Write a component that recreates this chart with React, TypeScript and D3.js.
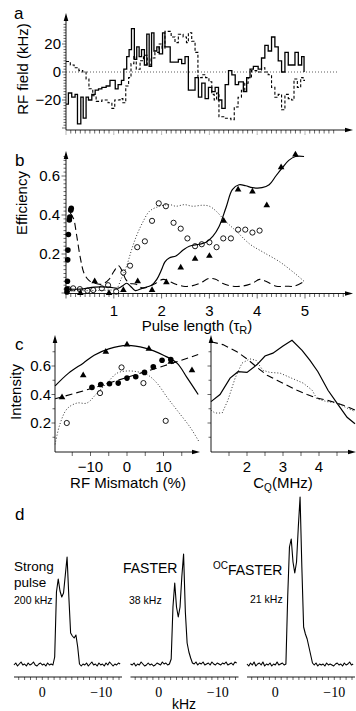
import React from 'react';
import * as d3 from 'd3';

const SANS = '"Liberation Sans", Arial, Helvetica, sans-serif';
const SERIF = '"Liberation Serif", "Times New Roman", serif';

// ---- panel a: RF field of the pulse (step start in tau_R, kHz) ----
const aSolidT = [0, 0.05, 0.12, 0.19, 0.24, 0.31, 0.36, 0.42, 0.47, 0.54, 0.61, 0.68, 0.75, 0.84, 0.92, 1.03, 1.09, 1.16, 1.21, 1.27, 1.32, 1.37, 1.43, 1.48, 1.53, 1.58, 1.64, 1.69, 1.74, 1.79, 1.84, 1.9, 1.95, 2.02, 2.07, 2.18, 2.35, 2.42, 2.49, 2.56, 2.7, 2.77, 2.84, 2.91, 2.98, 3.05, 3.12, 3.19, 3.26, 3.33, 3.4, 3.47, 3.54, 3.61, 3.71, 3.78, 3.85, 3.92, 4.02, 4.09, 4.16, 4.23, 4.3, 4.37, 4.44, 4.51, 4.58, 4.65, 4.79, 4.86, 4.93, 4.98];
const aSolidV = [-23, -15, -18, -16, -37, -18, -33, -18, -20, -16, -13, -12, -11, -10, -6, -12, -9, -6, 2, 11, 16, 31, 9, 18, 11, 16, 5, 27, 4, 28, 15, 18, 13, 28, 18, 7, 9, 6, 11, -13, -4, -18, -8, -19, -11, -14, -11, -20, -26, -9, 1, -2, -9, -7, -14, -4, 2, 4, 2, 10, 19, 15, 25, 18, 8, 0, 14, 5, 14, 5, 11, 0];
const aDashT = [0, 0.09, 0.17, 0.27, 0.35, 0.42, 0.48, 0.56, 0.63, 0.75, 0.88, 0.96, 1.02, 1.13, 1.19, 1.25, 1.31, 1.36, 1.42, 1.47, 1.55, 1.62, 1.7, 1.78, 1.86, 1.95, 2.01, 2.07, 2.2, 2.28, 2.35, 2.45, 2.52, 2.56, 2.63, 2.7, 2.76, 2.85, 2.92, 2.99, 3.05, 3.1, 3.15, 3.2, 3.32, 3.45, 3.52, 3.6, 3.67, 3.74, 3.81, 3.88, 3.99, 4.09, 4.16, 4.23, 4.3, 4.37, 4.44, 4.51, 4.58, 4.65, 4.72, 4.77, 4.84, 4.91, 4.96, 5.0];
const aDashV = [7.5, 5, 3, 1, 0, -5, -12, -17, -21, -20, -22, -26, -20, -19, -22, -10, -4, 6, 11, 2, 8, 12, 5, 10, 14, 20, 17, 29, 25, 21, 27, 25, 21, 28, 22, 14, -4, -2, -4, -7, -16, -20, -15, -32, -33, -34, -25, -18, -13, -8, -4, 1, 0, 3, 0, -2, -11, -18, -16, -27, -16, -19, -20, -5, -11, -4, -6, -6];
const aYLabels = [-20, 0, 20];

// ---- panel b: efficiency vs pulse length ----
const bSolidT = [0.02, 0.3, 0.6, 0.9, 1.1, 1.2, 1.27, 1.35, 1.45, 1.6, 1.79, 1.9, 2.0, 2.07, 2.16, 2.3, 2.45, 2.58, 2.79, 2.93, 3.07, 3.2, 3.35, 3.48, 3.62, 3.76, 3.9, 4.1, 4.25, 4.39, 4.52, 4.66, 4.8, 4.98];
const bSolidV = [0.02, 0.02, 0.03, 0.03, 0.025, 0.04, 0.05, 0.035, 0.012, 0.025, 0.04, 0.07, 0.12, 0.16, 0.18, 0.19, 0.22, 0.24, 0.25, 0.26, 0.29, 0.34, 0.44, 0.53, 0.555, 0.55, 0.54, 0.54, 0.555, 0.6, 0.64, 0.68, 0.7, 0.7];
const bDashT = [0.09, 0.16, 0.22, 0.3, 0.38, 0.48, 0.6, 0.75, 0.9, 1.0, 1.1, 1.18, 1.25, 1.33, 1.47, 1.6, 1.75, 1.88, 2.03, 2.16, 2.3, 2.45, 2.6, 2.8, 3.0, 3.13, 3.27, 3.48, 3.68, 3.9, 4.05, 4.18, 4.4, 4.6, 4.77, 4.95];
const bDashV = [0.41, 0.38, 0.3, 0.18, 0.1, 0.065, 0.05, 0.045, 0.07, 0.11, 0.14, 0.11, 0.07, 0.05, 0.045, 0.025, 0.035, 0.05, 0.07, 0.06, 0.045, 0.035, 0.035, 0.05, 0.075, 0.07, 0.05, 0.035, 0.035, 0.05, 0.07, 0.06, 0.035, 0.035, 0.035, 0.055];
const bDotT = [0.05, 0.5, 0.9, 1.05, 1.15, 1.27, 1.37, 1.47, 1.6, 1.75, 1.96, 2.17, 2.3, 2.48, 2.65, 2.86, 3.0, 3.14, 3.33, 3.57, 3.85, 4.12, 4.47, 4.79, 4.98];
const bDotV = [0.01, 0.012, 0.015, 0.02, 0.07, 0.14, 0.22, 0.29, 0.36, 0.42, 0.445, 0.453, 0.445, 0.453, 0.445, 0.45, 0.445, 0.42, 0.37, 0.315, 0.25, 0.21, 0.16, 0.1, 0.06];
const bFilledT = [0.02, 0.02, 0.03, 0.035, 0.04, 0.05, 0.07, 0.08, 0.1, 0.11];
const bFilledV = [0.005, 0.02, 0.06, 0.17, 0.22, 0.3, 0.375, 0.39, 0.425, 0.435];
const bOpenT = [0.05, 0.15, 0.29, 0.45, 0.57, 0.75, 0.88, 1.05, 1.2, 1.34, 1.49, 1.65, 1.8, 1.94, 2.09, 2.25, 2.4, 2.54, 2.7, 2.84, 3.0, 3.15, 3.29, 3.45, 3.6, 3.75, 3.9, 4.05];
const bOpenV = [0.02, 0.024, 0.02, 0.012, 0.015, 0.024, 0.04, 0.007, 0.105, 0.14, 0.235, 0.265, 0.37, 0.46, 0.445, 0.36, 0.33, 0.28, 0.24, 0.25, 0.26, 0.235, 0.28, 0.28, 0.325, 0.325, 0.31, 0.32];
const bTriT = [0.3, 0.6, 0.9, 1.2, 1.5, 1.8, 2.1, 2.4, 2.7, 3.0, 3.3, 3.6, 3.9, 4.2, 4.5, 4.8];
const bTriV = [0, 0.06, 0, 0.015, 0.06, 0.015, 0.055, 0.13, 0.175, 0.19, 0.37, 0.53, 0.52, 0.45, 0.645, 0.71];
const bYLabels = [0.2, 0.4, 0.6];
const bXLabels = [1, 2, 3, 4, 5];

// ---- panel c left: intensity vs RF mismatch (%) ----
const cSolidX = [-19.7, -16, -12, -9, -5, 0, 5, 10, 13.7, 16.4, 19.5];
const cSolidV = [0.46, 0.55, 0.62, 0.675, 0.72, 0.745, 0.725, 0.675, 0.62, 0.52, 0.4];
const cDashX = [-19.7, -10, 0, 10, 19.5];
const cDashV = [0.37, 0.44, 0.52, 0.6, 0.68];
const cDotX = [-19.7, -18.4, -16.4, -13.7, -11, -8.2, -5.5, -2.7, 0, 2.7, 5.5, 8.2, 11, 13.7, 17.3, 19.7];
const cDotV = [0.05, 0.19, 0.3, 0.34, 0.34, 0.41, 0.48, 0.55, 0.565, 0.56, 0.54, 0.48, 0.38, 0.29, 0.17, 0.07];
const cTriX = [-17.8, -12, -5.8, 0, 6, 12, 17.8];
const cTriV = [0.38, 0.535, 0.7, 0.75, 0.72, 0.63, 0.57];
const cFilledX = [-9.6, -7.2, -4.8, -2.4, 0, 2.4, 4.8, 7.2, 9.6, 12];
const cFilledV = [0.45, 0.47, 0.475, 0.48, 0.515, 0.525, 0.555, 0.595, 0.64, 0.645];
const cOpenX = [-16.5, -7.4, -1.5, 4.5, 10.6];
const cOpenV = [0.2, 0.41, 0.59, 0.48, 0.215];
const cXLabels = [-10, 0, 10];
const cYLabels = [0.2, 0.4, 0.6];

// ---- panel c right: intensity vs C_Q (MHz) ----
const crSolidX = [1.0, 1.25, 1.53, 1.75, 2.0, 2.28, 2.5, 2.72, 3.0, 3.25, 3.53, 3.75, 3.97, 4.25, 4.5, 4.78, 5.0];
const crSolidV = [0.35, 0.4, 0.515, 0.56, 0.555, 0.61, 0.67, 0.69, 0.74, 0.78, 0.71, 0.64, 0.56, 0.43, 0.34, 0.24, 0.195];
const crDashX = [1.0, 1.33, 1.72, 2.0, 2.28, 2.56, 2.83, 3.11, 3.39, 3.67, 3.94, 4.22, 4.5, 4.78, 5.0];
const crDashV = [0.77, 0.75, 0.7, 0.65, 0.59, 0.535, 0.5, 0.465, 0.43, 0.4, 0.375, 0.36, 0.34, 0.315, 0.29];
const crDotX = [1.0, 1.11, 1.31, 1.47, 1.67, 1.86, 2.08, 2.25, 2.44, 2.64, 2.92, 3.19, 3.56, 3.81, 3.94, 4.22, 4.5, 4.78, 5.0];
const crDotV = [0.29, 0.27, 0.27, 0.36, 0.515, 0.62, 0.65, 0.64, 0.57, 0.555, 0.55, 0.52, 0.48, 0.43, 0.37, 0.35, 0.34, 0.305, 0.28];
const crXLabels = [2, 3, 4];

// ---- panel d: spectra, sampled every 0.3 kHz from +4.8 kHz ----
const specStart = 4.8;
const specStep = 0.3;
const strongPulse = [2, 4, 1, 3, 5, 2, 3, 1, 4, 2, 3, 5, 2, 1, 3, 4, 2, 3, 1, 4, 2, 3, 2,
  10, 75, 88, 76, 70, 74, 92, 110, 70, 34, 31, 29, 32, 20, 3,
  1, 3, 2, 4, 1, 3, 5, 2, 3, 1, 4, 2, 3, 1, 4, 2, 5, 3, 1, 3, 2, 4, 3];
const faster = [3, 2, 4, 1, 3, 2, 5, 3, 1, 2, 4, 2, 3, 1, 2, 4, 3, 2, 5, 3, 4, 2, 3,
  8, 60, 84, 60, 50, 60, 90, 113, 55, 24, 15, 9, 4,
  3, 5, 2, 4, 3, 5, 2, 3, 4, 2, 5, 3, 2, 4, 3, 2, 4, 3, 5, 2, 3, 4, 2, 5, 4];
const ocFaster = [3, 1, 4, 2, 5, 1, 3, 4, 2, 5, 1, 3, 2, 4, 1, 3, 2, 5, 2, 3, 4, 2,
  3, 70, 120, 128, 105, 94, 105, 140, 170, 100, 40, 33, 28, 20, 12, 4,
  2, 4, 1, 3, 2, 3, 1, 4, 2, 3, 2, 1, 3, 4, 2, 3, 1, 4, 2, 3, 5, 2, 3];
const dTickLabels = [0, -10];

const zip = (xs: number[], ys: number[]) => xs.map((x, i) => [x, ys[i]] as [number, number]);
const fmtMinus = (v: number) => (v < 0 ? '\u2212' + Math.abs(v) : String(v));

function ArrowUp({ x, y }: { x: number; y: number }) {
  return <path d={`M${x},${y} L${x - 2.3},${y + 8} L${x + 2.3},${y + 8} Z`} fill="#000" />;
}
function ArrowRight({ x, y }: { x: number; y: number }) {
  return <path d={`M${x},${y} L${x - 8},${y - 2.3} L${x - 8},${y + 2.3} Z`} fill="#000" />;
}

export default function App() {
  // shared time axis for a and b
  const xT = d3.scaleLinear().domain([0, 5]).range([66, 305]);

  // panel a
  const ya = d3.scaleLinear().domain([-20, 20]).range([100, 44]);
  const aBase = 130;
  const aStep = d3.line<[number, number]>().x(d => xT(d[0])).y(d => ya(d[1])).curve(d3.curveStepAfter);
  const aSolidPts = zip(aSolidT, aSolidV);
  const aDashPts = zip(aDashT, aDashV);

  // panel b
  const yb = d3.scaleLinear().domain([0, 0.6]).range([293, 176]);
  const bBase = 293.5;
  const bLine = d3.line<[number, number]>().x(d => xT(d[0])).y(d => yb(d[1])).curve(d3.curveCatmullRom);
  const tri = d3.symbol().type(d3.symbolTriangle).size(19)() as string;

  // panel c
  const yc = d3.scaleLinear().domain([0.2, 0.6]).range([423, 366]);
  const xcl = d3.scaleLinear().domain([-10, 10]).range([90.5, 163.5]);
  const xcr = d3.scaleLinear().domain([2, 4]).range([247, 319]);
  const cBase = 452;
  const clLine = d3.line<[number, number]>().x(d => xcl(d[0])).y(d => yc(d[1])).curve(d3.curveCatmullRom);
  const crLine = d3.line<[number, number]>().x(d => xcr(d[0])).y(d => yc(d[1])).curve(d3.curveLinear);

  // panel d
  const yd = d3.scaleLinear().domain([0, 170]).range([667, 497]);
  const dAxisY = 677;
  const spectra = [
    { left: 14, data: strongPulse },
    { left: 130.5, data: faster },
    { left: 247, data: ocFaster },
  ];

  const axisStroke = { stroke: '#000', strokeWidth: 0.9 };

  return (
    <svg width={356} height={711} style={{ position: 'absolute', left: 0, top: 0, background: '#fff' }}
      fontFamily={SANS}>
      {/* ================= panel a ================= */}
      <text x={14} y={19} fontSize={17}>a</text>
      <text transform={`translate(28,69) rotate(-90)`} textAnchor="middle" fontSize={15}>RF field (kHz)</text>
      <line x1={66} x2={66} y1={aBase} y2={20} {...axisStroke} />
      <ArrowUp x={66} y={13} />
      <line x1={66} x2={346} y1={aBase} y2={aBase} {...axisStroke} />
      <ArrowRight x={353} y={aBase} />
      {d3.range(-40, 35, 2).map(v => (
        <line key={'ay' + v} x1={v % 20 === 0 ? 62 : 63.5} x2={66} y1={ya(v)} y2={ya(v)} stroke="#000" strokeWidth={0.6} />
      ))}
      {aYLabels.map(v => (
        <text key={'ayl' + v} x={61} y={ya(v) + 5} textAnchor="end" fontSize={15}>{fmtMinus(v)}</text>
      ))}
      {d3.range(0, 57, 1).map(i => (
        <line key={'ax' + i} x1={xT(i / 10)} x2={xT(i / 10)} y1={aBase} y2={aBase + (i % 10 === 0 ? 5 : 3.5)}
          stroke={i % 10 === 0 ? '#888' : '#000'} strokeWidth={0.6} />
      ))}
      <line x1={66} x2={338} y1={ya(0)} y2={ya(0)} stroke="#333" strokeWidth={0.8} strokeDasharray="1,2" />
      <path d={aStep(aDashPts) || ''} fill="none" stroke="#000" strokeWidth={1.1} strokeDasharray="3,2" />
      <path d={aStep(aSolidPts) || ''} fill="none" stroke="#000" strokeWidth={1.3} />

      {/* ================= panel b ================= */}
      <text x={15} y={166} fontSize={17}>b</text>
      <text transform={`translate(27,203) rotate(-90)`} textAnchor="middle" fontSize={15}>Efficiency</text>
      <line x1={66} x2={66} y1={bBase} y2={158} {...axisStroke} />
      <ArrowUp x={66} y={151} />
      <line x1={66} x2={346} y1={bBase} y2={bBase} {...axisStroke} />
      <ArrowRight x={353} y={bBase} />
      {d3.range(0, 36, 1).map(i => (
        <line key={'by' + i} x1={i % 10 === 0 ? 61.5 : 63.5} x2={66} y1={yb(i * 0.02)} y2={yb(i * 0.02)} stroke="#000" strokeWidth={0.6} />
      ))}
      {bYLabels.map(v => (
        <text key={'byl' + v} x={60} y={yb(v) + 5} textAnchor="end" fontSize={15}>{v}</text>
      ))}
      {d3.range(0, 59, 1).map(i => (
        <line key={'bx' + i} x1={xT(i / 10)} x2={xT(i / 10)} y1={bBase} y2={bBase + (i % 10 === 0 ? 5 : 3.5)} stroke="#000" strokeWidth={0.6} />
      ))}
      {bXLabels.map(v => (
        <text key={'bxl' + v} x={xT(v)} y={315.5} textAnchor="middle" fontSize={15}>{v}</text>
      ))}
      <text x={197} y={331} textAnchor="middle" fontSize={15}>
        Pulse length  (τ<tspan dy={3} fontSize={11}>R</tspan><tspan dy={-3}>)</tspan>
      </text>
      <path d={bLine(zip(bDotT, bDotV)) || ''} fill="none" stroke="#333" strokeWidth={1} strokeDasharray="1,2" />
      <path d={bLine(zip(bDashT, bDashV)) || ''} fill="none" stroke="#000" strokeWidth={1.1} strokeDasharray="7,4" />
      <path d={bLine(zip(bSolidT, bSolidV)) || ''} fill="none" stroke="#000" strokeWidth={1.2} />
      {bOpenT.map((t, i) => (
        <circle key={'bo' + i} cx={xT(t)} cy={yb(bOpenV[i])} r={2.6} fill="none" stroke="#000" strokeWidth={0.9} />
      ))}
      {bTriT.map((t, i) => (
        <path key={'bt' + i} d={tri} transform={`translate(${xT(t)},${yb(bTriV[i])})`} fill="#000" />
      ))}
      {bFilledT.map((t, i) => (
        <circle key={'bf' + i} cx={xT(t)} cy={yb(bFilledV[i])} r={2.8} fill="#000" />
      ))}

      {/* ================= panel c ================= */}
      <text x={15} y={350} fontSize={17}>c</text>
      <text transform={`translate(21,392) rotate(-90)`} textAnchor="middle" fontSize={15}>Intensity</text>
      {/* left axes */}
      <line x1={55} x2={55} y1={cBase} y2={342} {...axisStroke} />
      <ArrowUp x={55} y={335} />
      <line x1={55} x2={193} y1={cBase} y2={cBase} {...axisStroke} />
      <ArrowRight x={200} y={cBase} />
      {/* right axes */}
      <line x1={211} x2={211} y1={cBase} y2={342} {...axisStroke} />
      <ArrowUp x={211} y={335} />
      <line x1={211} x2={349} y1={cBase} y2={cBase} {...axisStroke} />
      <ArrowRight x={356} y={cBase} />
      {d3.range(1, 8, 1).map(i => (
        <g key={'cy' + i}>
          <line x1={i % 2 === 0 ? 51.5 : 52.5} x2={55} y1={yc(i / 10)} y2={yc(i / 10)} stroke="#000" strokeWidth={0.6} />
          <line x1={i % 2 === 0 ? 207.5 : 208.5} x2={211} y1={yc(i / 10)} y2={yc(i / 10)} stroke="#000" strokeWidth={0.6} />
        </g>
      ))}
      {cYLabels.map(v => (
        <text key={'cyl' + v} x={51} y={yc(v) + 5} textAnchor="end" fontSize={15}>{v}</text>
      ))}
      {d3.range(-15, 20, 5).map(v => (
        <line key={'cxl' + v} x1={xcl(v)} x2={xcl(v)} y1={cBase} y2={cBase + 4} stroke="#000" strokeWidth={0.6} />
      ))}
      {d3.range(1.5, 5, 0.5).map(v => (
        <line key={'cxr' + v} x1={xcr(v)} x2={xcr(v)} y1={cBase} y2={cBase + 4} stroke="#000" strokeWidth={0.6} />
      ))}
      {cXLabels.map(v => (
        <text key={'cxll' + v} x={xcl(v)} y={472} textAnchor="middle" fontSize={15}>{fmtMinus(v)}</text>
      ))}
      {crXLabels.map(v => (
        <text key={'crxl' + v} x={xcr(v)} y={472} textAnchor="middle" fontSize={15}>{v}</text>
      ))}
      <text x={128} y={488} textAnchor="middle" fontSize={15}>RF Mismatch (%)</text>
      <text x={283} y={488} textAnchor="middle" fontSize={15}>
        C<tspan dy={3} fontSize={10}>Q</tspan><tspan dy={-3}>(MHz)</tspan>
      </text>
      <path d={clLine(zip(cDotX, cDotV)) || ''} fill="none" stroke="#333" strokeWidth={1} strokeDasharray="1,2" />
      <path d={clLine(zip(cDashX, cDashV)) || ''} fill="none" stroke="#000" strokeWidth={1.1} strokeDasharray="7,4" />
      <path d={clLine(zip(cSolidX, cSolidV)) || ''} fill="none" stroke="#000" strokeWidth={1.2} />
      {cOpenX.map((x, i) => (
        <circle key={'co' + i} cx={xcl(x)} cy={yc(cOpenV[i])} r={2.6} fill="none" stroke="#000" strokeWidth={0.9} />
      ))}
      {cFilledX.map((x, i) => (
        <circle key={'cf' + i} cx={xcl(x)} cy={yc(cFilledV[i])} r={2.8} fill="#000" />
      ))}
      {cTriX.map((x, i) => (
        <path key={'ct' + i} d={tri} transform={`translate(${xcl(x)},${yc(cTriV[i])})`} fill="#000" />
      ))}
      <path d={crLine(zip(crDotX, crDotV)) || ''} fill="none" stroke="#333" strokeWidth={1} strokeDasharray="1,2" />
      <path d={crLine(zip(crDashX, crDashV)) || ''} fill="none" stroke="#000" strokeWidth={1.1} strokeDasharray="7,4" />
      <path d={crLine(zip(crSolidX, crSolidV)) || ''} fill="none" stroke="#000" strokeWidth={1.2} />

      {/* ================= panel d ================= */}
      <text x={15} y={520} fontSize={17}>d</text>
      {spectra.map((s, k) => {
        const xd = d3.scaleLinear().domain([0, -10]).range([s.left + 28.3, s.left + 87.3]);
        const line = d3.line<number>().x((_, i) => xd(specStart - specStep * i)).y(v => yd(v));
        return (
          <g key={'sp' + k}>
            <line x1={s.left} x2={s.left + 108} y1={dAxisY} y2={dAxisY} {...axisStroke} />
            {d3.range(-13, 5, 1).map(f => (
              <line key={'dt' + f} x1={xd(f)} x2={xd(f)} y1={dAxisY} y2={dAxisY + 3} stroke="#000" strokeWidth={0.6} />
            ))}
            {dTickLabels.map(f => (
              <text key={'dl' + f} x={xd(f)} y={697} textAnchor="middle" fontFamily={SERIF} fontSize={14}>{fmtMinus(f)}</text>
            ))}
            <path d={line(s.data) || ''} fill="none" stroke="#000" strokeWidth={1.1} strokeLinejoin="round" />
          </g>
        );
      })}
      <text x={14} y={571} fontSize={13.5}>Strong</text>
      <text x={14} y={587} fontSize={13.5}>pulse</text>
      <text x={14} y={604} fontSize={10.5}>200 kHz</text>
      <text x={123} y={573} fontSize={14}>FASTER</text>
      <text x={129} y={604} fontSize={10.5}>38 kHz</text>
      <text x={213} y={575} fontSize={14}>
        <tspan fontSize={10} dy={-6}>OC</tspan><tspan dy={6}>FASTER</tspan>
      </text>
      <text x={250} y={603} fontSize={10.5}>21 kHz</text>
      <text x={184} y={709} textAnchor="middle" fontSize={14}>kHz</text>
    </svg>
  );
}
